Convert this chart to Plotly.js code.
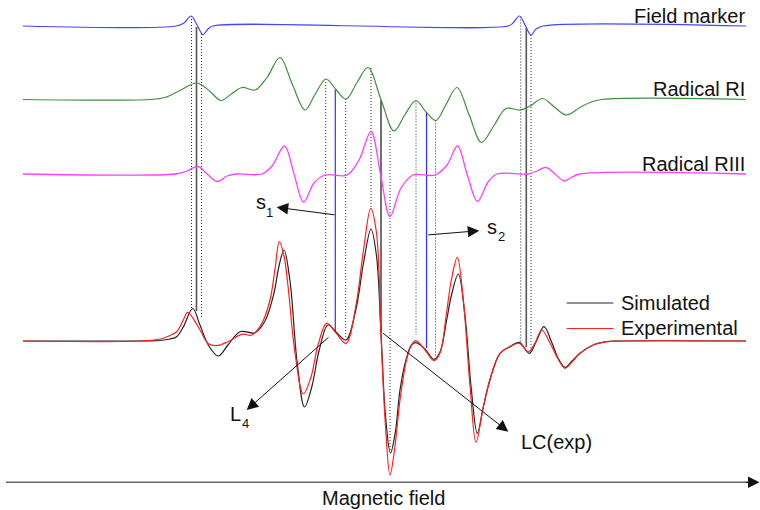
<!DOCTYPE html>
<html>
<head>
<meta charset="utf-8">
<script src="https://cdn.plot.ly/plotly-3.0.1.min.js"></script>
<style>html,body{margin:0;padding:0;background:#fff;}#chart{width:760px;height:510px;}</style>
</head>
<body>
<div id="chart"></div>
<script>
// ---- Data (field position, signal amplitude; amplitude positive = up) ----
const markerField = [23,176,184,191,197,203,208,213,508,513,519.5,525,531,536,543,746];
const markerAmp   = [0,0,3,10,1,-8.7,-3,0,0,3,10,1,-9,-3,0,0];

const riField = [23,150,165,180,197,210,221,232,242,255,267,280,292,305,315,326,336,346,357,368,381,394,405,416,426,436,446,457,469,481.5,494,506,520,531,542.5,555,566.5,580,590,602,746];
const riAmp   = [0,0,2,9,16.5,8,-1,6,12,9.5,22,42,16,-10.5,5,20.5,10,0.5,17,32,0,-31.5,-15,-1,-12.5,-21,-5,12,-15,-43,-26,-9,-10.5,-6,1,-8,-15.5,-8,-3,0,0];

const riiiField = [23,175,186,198,207,217,227,237,262,272,284.5,294,303.5,314,325,347,359,371,380.5,390,401,413,435,447,457.5,467,477.5,488,497,528,537,546,555,564,572,580,746];
const riiiAmp   = [0,0,2.5,7.5,0,-7.5,-2,0,0,8,28,0,-28,-9,-1,-1,14,42.5,0,-42.5,-14,-1,-1,9,28,0,-27.5,-8,0,0,3,6.5,0,-7,-3,0,0];

const simField = [23,140,160,170,176.7,183.3,192.7,200,208.3,218.3,228,240,255,265,274,279,284,290,297,304.5,312,319,328,337,346,356,363.5,371,376.5,381,385.5,390.5,395.5,400,406.5,411.5,416,425,434,440,446.5,451.5,458.3,465,471,477.3,483.3,490,500,510,519.3,529.3,536,544,552,558,565,572,580,593.3,606.7,620,746];
const simAmp   = [0,0,0.5,2,4.3,14,32.5,16,-4,-15,-4,9.3,8.3,20,48,75,91,60,-20,-66,-45,-10,16,8,1,32,78,112,85,8,-75,-112,-90,-49,-17,-4,-1.7,-8,-18.3,-11,20,46,67,25,-45,-92.3,-66,-39,-12.3,-5.7,-1.3,-12.3,-1,14.3,-2,-17,-26.3,-20,-12.3,-4,-0.7,0,0];

const expField = [23,140,160,167,176.7,183.3,187.7,200,208,216.7,228,241.7,251.7,262,270,275,279.3,284,288,295,303.3,311,318,326.7,336,346,356,363.5,370.7,376.5,381,385.5,390,395,400,406.5,411.5,415.7,425,434,440,446.5,451.5,457.3,463.3,470,476,483.3,490,500,510,519.3,528.3,535,541.7,550,558,565,572,580,593.3,606.7,620,746];
const expAmp   = [0,0,2,4.3,9.3,21,28.7,11,-2.5,-4.7,-0.7,6.7,6,18,41,72,99.3,85,55,-12,-53,-36,-4,17.7,8,-2.3,36,91,132.7,108,5,-85,-134,-105,-59,-19,-4,0.3,-9,-19.7,-12,28,62,83.7,41,-45,-101.3,-66,-38,-12.3,-5.7,-2.3,-10.7,-2,11,-2,-18,-27.3,-21,-12.3,-4,-0.7,0,0];

// guide lines linking features (field position, top / bottom in picture rows)
const dottedField  = [191.5,201.5,325.7,345.7,371,390,416,435.5,520.7,531];
const dottedTop    = [16,34,79,99,68,131,100.5,120.5,16.5,35];
const dottedBottom = [308,317,318,338,207,452,335,357,343,350];
const grayField = [196.5,526.3], grayTop = [27,28], grayBottom = [311,347];
const blueField = [335.3,426.5], blueTop = [89.5,112], blueBottom = [331.7,348];
const blackField = [381], blackTop = [100], blackBottom = [332];

const labels = ['Field marker','Radical RI','Radical RIII'];
const legendNames = ['Simulated','Experimental'];
const xTitle = 'Magnetic field';

// ---- layout helpers ----
const FONT = 'Liberation Sans, Arial, Helvetica, sans-serif';
const Y = py => -py;              // picture row -> y coordinate
const base = {marker:26, ri:99.5, riii:174, spec:341};
const shift = (arr, b) => arr.map(a => a - b);

function curve(x, amp, b, color, w, name){
  return {x:x, y:shift(amp,b), type:'scatter', mode:'lines', name:name,
          line:{color:color, width:w, shape:'spline', smoothing:1}, hoverinfo:'skip', showlegend:false};
}

const traces = [
  curve(markerField, markerAmp, base.marker, '#4646ff', 1.2, labels[0]),
  curve(riField, riAmp, base.ri, '#3f8f3f', 1.2, labels[1]),
  curve(riiiField, riiiAmp, base.riii, '#ff40ff', 1.3, labels[2]),
  curve(simField, simAmp, base.spec, '#222222', 1.2, legendNames[0]),
  curve(expField, expAmp, base.spec, '#ff2020', 1.2, legendNames[1])
];

const shapes = [];
function vline(xs, tops, bots, color, w, dash){
  xs.forEach((x,i)=>shapes.push({type:'line', xref:'x', yref:'y', x0:x, x1:x, y0:Y(tops[i]), y1:Y(bots[i]),
     line:{color:color, width:w, dash:dash}, layer:'below'}));
}
vline(dottedField, dottedTop, dottedBottom, '#333', 1, '1px,2px');
vline(grayField, grayTop, grayBottom, '#555', 1.6, 'solid');
vline(blueField, blueTop, blueBottom, '#3030ff', 1.2, 'solid');
vline(blackField, blackTop, blackBottom, '#111', 1.2, 'solid');
// axis line
shapes.push({type:'line', xref:'x', yref:'y', x0:6, x1:750, y0:Y(482.3), y1:Y(482.3), line:{color:'#666', width:1.5}});
// legend samples
shapes.push({type:'line', xref:'x', yref:'y', x0:566.7, x1:613.3, y0:Y(303), y1:Y(303), line:{color:'#222', width:1.2}});
shapes.push({type:'line', xref:'x', yref:'y', x0:566.7, x1:613.3, y0:Y(328.5), y1:Y(328.5), line:{color:'#ff2020', width:1.2}});

const ann = [];
function txt(t, x, py, size, xa){
  ann.push({text:t, x:x, y:Y(py), xref:'x', yref:'y', showarrow:false, xanchor:xa||'center', yanchor:'middle',
            font:{family:FONT, size:size, color:'#111'}});
}
function arrow(tx, ty, hx, hy){
  ann.push({text:'', x:hx, y:Y(hy), ax:tx, ay:Y(ty), xref:'x', yref:'y', axref:'x', ayref:'y',
            showarrow:true, arrowhead:2, arrowsize:2.3, arrowwidth:1, arrowcolor:'#111'});
}
txt(labels[0], 746.5, 16, 20, 'right');
txt(labels[1], 746.5, 89, 20, 'right');
txt(labels[2], 746.5, 163.5, 20, 'right');
txt(legendNames[0], 619, 303, 20, 'left');
txt(legendNames[1], 619, 328, 20, 'left');
txt(xTitle, 383, 497.5, 20, 'center');
txt('s', 260.8, 201.5, 20);
txt('1', 269.5, 212.5, 13);
txt('s', 492.3, 227, 20);
txt('2', 501, 236.5, 13);
txt('L', 235.5, 414, 20);
txt('4', 245, 423, 13);
txt('LC(exp)', 519, 442, 20, 'left');
arrow(336, 215, 276.7, 207.3);
arrow(426.7, 235, 479.3, 230.7);
arrow(330, 336, 246.7, 410);
arrow(381.5, 332, 508.3, 431.7);
arrow(744, 482.3, 759.5, 482.3);

const layout = {
  width:760, height:510, margin:{l:0,r:0,t:0,b:0}, paper_bgcolor:'#fff', plot_bgcolor:'#fff',
  xaxis:{range:[0,760], visible:false, fixedrange:true},
  yaxis:{range:[-510,0], visible:false, fixedrange:true},
  showlegend:false, shapes:shapes, annotations:ann, font:{family:FONT}
};
Plotly.newPlot('chart', traces, layout, {displayModeBar:false, staticPlot:true});
</script>
</body>
</html>
